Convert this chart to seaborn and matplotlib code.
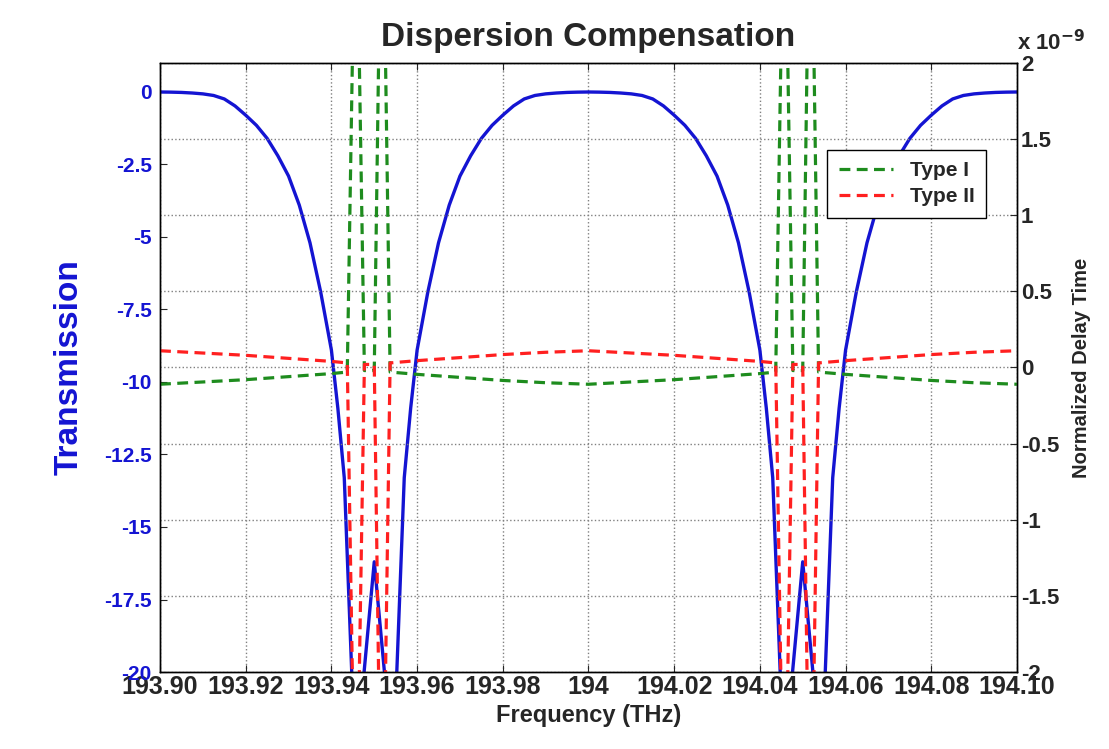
import matplotlib
matplotlib.use('Agg')
from matplotlib import pyplot as plt
import seaborn as sns

# transmission (dB), left axis
freq_t = [193.900, 193.9025, 193.905, 193.9075, 193.910, 193.9125, 193.915, 193.9175,
          193.920, 193.9225, 193.925, 193.9275, 193.930, 193.9325, 193.935, 193.9375,
          193.940, 193.9415, 193.943, 193.945, 193.946, 193.947, 193.950, 193.953,
          193.954, 193.955, 193.957, 193.9585, 193.960, 193.9625, 193.965, 193.9675,
          193.970, 193.9725, 193.975, 193.9775, 193.980, 193.9825, 193.985, 193.9875,
          193.990, 193.9925, 193.995, 193.9975, 194.000,
          194.0025, 194.005, 194.0075, 194.010, 194.0125, 194.015, 194.0175,
          194.020, 194.0225, 194.025, 194.0275, 194.030, 194.0325, 194.035, 194.0375,
          194.040, 194.0415, 194.043, 194.045, 194.046, 194.047, 194.050, 194.053,
          194.054, 194.055, 194.057, 194.0585, 194.060, 194.0625, 194.065, 194.0675,
          194.070, 194.0725, 194.075, 194.0775, 194.080, 194.0825, 194.085, 194.0875,
          194.090, 194.0925, 194.095, 194.0975, 194.100]
trans_db = [0, -0.005, -0.015, -0.035, -0.065, -0.12, -0.24, -0.48,
            -0.8, -1.15, -1.6, -2.2, -2.9, -3.9, -5.2, -6.9,
            -8.9, -10.9, -13.3, -21.0, -40.0, -21.0, -16.2, -21.0,
            -40.0, -21.0, -13.3, -10.9, -8.9, -6.9, -5.2, -3.9,
            -2.9, -2.2, -1.6, -1.15, -0.8, -0.48, -0.24, -0.12,
            -0.065, -0.035, -0.015, -0.005, 0,
            -0.005, -0.015, -0.035, -0.065, -0.12, -0.24, -0.48,
            -0.8, -1.15, -1.6, -2.2, -2.9, -3.9, -5.2, -6.9,
            -8.9, -10.9, -13.3, -21.0, -40.0, -21.0, -16.2, -21.0,
            -40.0, -21.0, -13.3, -10.9, -8.9, -6.9, -5.2, -3.9,
            -2.9, -2.2, -1.6, -1.15, -0.8, -0.48, -0.24, -0.12,
            -0.065, -0.035, -0.015, -0.005, 0]

# normalized delay time (x 1e-9), right axis
freq_d = [193.900, 193.910, 193.920, 193.930, 193.940, 193.9437, 193.9457, 193.9477,
          193.950, 193.9518, 193.9537, 193.960, 193.970, 193.980, 193.990, 194.000,
          194.010, 194.020, 194.030, 194.040, 194.0437, 194.0457, 194.0477,
          194.050, 194.0518, 194.0537, 194.060, 194.070, 194.080, 194.090, 194.100]
delay_type1 = [-0.11, -0.095, -0.08, -0.06, -0.04, -0.03, 3.4, -0.02,
               -0.02, 3.6, -0.03, -0.045, -0.065, -0.085, -0.10, -0.11,
               -0.095, -0.08, -0.06, -0.04, -0.03, 3.4, -0.02,
               -0.02, 3.6, -0.03, -0.045, -0.065, -0.085, -0.10, -0.11]
delay_type2 = [0.11, 0.095, 0.08, 0.06, 0.04, 0.03, -3.4, 0.02,
               0.02, -3.6, 0.03, 0.045, 0.065, 0.085, 0.10, 0.11,
               0.095, 0.08, 0.06, 0.04, 0.03, -3.4, 0.02,
               0.02, -3.6, 0.03, 0.045, 0.065, 0.085, 0.10, 0.11]

x_ticks = [193.90, 193.92, 193.94, 193.96, 193.98, 194.00, 194.02, 194.04, 194.06, 194.08, 194.10]
x_labels = ['193.90', '193.92', '193.94', '193.96', '193.98', '194',
            '194.02', '194.04', '194.06', '194.08', '194.10']
left_ticks = [0, -2.5, -5, -7.5, -10, -12.5, -15, -17.5, -20]
left_labels = ['0', '-2.5', '-5', '-7.5', '-10', '-12.5', '-15', '-17.5', '-20']
right_ticks = [2, 1.5, 1, 0.5, 0, -0.5, -1, -1.5, -2]
right_labels = ['2', '1.5', '1', '0.5', '0', '-0.5', '-1', '-1.5', '-2']

sns.set_style('white')
plt.rcParams['font.family'] = ['Liberation Sans', 'DejaVu Sans']
plt.rcParams['font.weight'] = 'bold'

blue = '#1414d2'
green = '#1e8c1e'
red = '#ff2020'
dash = (0, (3.4, 2.0))

fig = plt.figure(figsize=(11.09, 7.49), dpi=100)
ax = fig.add_axes([0.1443, 0.1028, 0.7727, 0.8131])
ax2 = ax.twinx()

sns.lineplot(x=freq_t, y=trans_db, ax=ax, color=blue, linewidth=2.4, sort=False)
sns.lineplot(x=freq_d, y=delay_type1, ax=ax2, color=green, linewidth=2.3,
             linestyle=dash, sort=False, label='Type I')
sns.lineplot(x=freq_d, y=delay_type2, ax=ax2, color=red, linewidth=2.3,
             linestyle=dash, sort=False, label='Type II')

ax.set_xlim(193.90, 194.10)
ax.set_ylim(-20, 1)
ax2.set_ylim(-2, 2)

ax.set_xticks(x_ticks)
ax.set_xticklabels(x_labels, fontsize=18, fontweight='bold')
ax.set_yticks(left_ticks)
ax.set_yticklabels(left_labels, fontsize=15, fontweight='bold', color=blue)
ax2.set_yticks(right_ticks)
ax2.set_yticklabels(right_labels, fontsize=16, fontweight='bold')

ax.tick_params(axis='x', direction='in', length=5, bottom=True, top=True, pad=2)
ax.tick_params(axis='y', direction='in', length=5, left=True, pad=6)
ax2.tick_params(axis='y', direction='in', length=5, right=True, pad=3)

ax.xaxis.grid(True, linestyle=':', color='#808080', linewidth=1.0)
ax.yaxis.grid(False)
ax2.yaxis.grid(True, linestyle=':', color='#808080', linewidth=1.0)
ax2.xaxis.grid(False)

for a in (ax, ax2):
    for s in a.spines.values():
        s.set_color('black')
        s.set_linewidth(1.0)

ax.set_title('Dispersion Compensation', fontsize=24, fontweight='bold', pad=12)
ax.set_xlabel('Frequency (THz)', fontsize=17, fontweight='bold', labelpad=4)
ax.set_ylabel('Transmission', fontsize=24, fontweight='bold', color=blue)
ax.yaxis.set_label_coords(-0.088, 0.5)
ax2.set_ylabel('Normalized Delay Time', fontsize=14.5, fontweight='bold')
ax2.yaxis.set_label_coords(1.064, 0.5)

ax2.text(1.0, 1.012, r'x 10$^{\mathbf{-9}}$', transform=ax2.transAxes,
         ha='left', va='bottom', fontsize=16, fontweight='bold')

ax2.legend(loc='upper right', bbox_to_anchor=(0.976, 0.875), fontsize=15,
           frameon=True, fancybox=False, edgecolor='black', framealpha=1,
           handlelength=2.6, borderpad=0.55, labelspacing=0.35)

fig.savefig('out.png', dpi=100)
